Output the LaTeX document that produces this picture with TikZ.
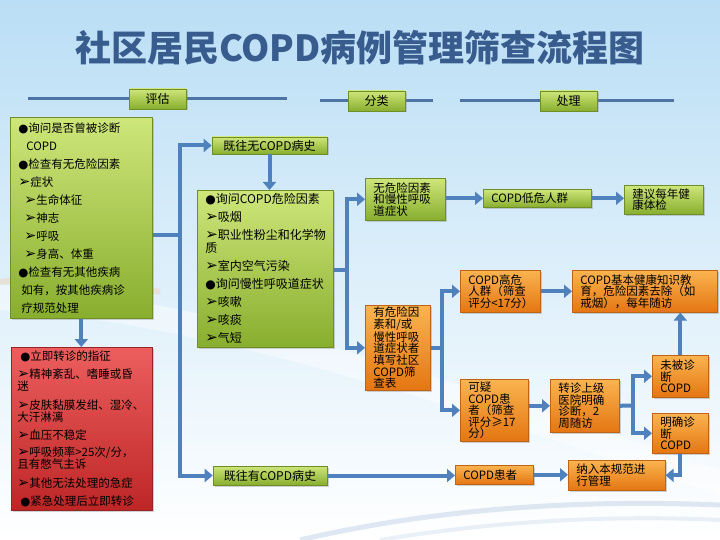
\documentclass[tikz,border=0pt]{standalone}
\usepackage{fontspec}
\setmainfont{Noto Sans CJK SC}
\newfontfamily\symfont{DejaVu Sans}
\usetikzlibrary{arrows.meta,shadows}
\AtBeginDocument{\lineskiplimit=-100pt\relax}
\definecolor{arrblue}{RGB}{79,129,189}
\definecolor{hdrline}{RGB}{78,116,165}
\definecolor{titleblue}{RGB}{56,92,142}
\definecolor{gtop}{RGB}{206,230,122}
\definecolor{gbot}{RGB}{136,174,46}
\definecolor{gdraw}{RGB}{112,142,40}
\definecolor{otop}{RGB}{250,180,80}
\definecolor{obot}{RGB}{228,118,18}
\definecolor{odraw}{RGB}{190,100,20}
\definecolor{rtop}{RGB}{236,94,94}
\definecolor{rbot}{RGB}{190,38,38}
\definecolor{rdraw}{RGB}{150,36,36}
\definecolor{bgtop}{RGB}{186,222,245}
\newcommand\mybul{{\symfont ●}}
\newcommand\myarr{{\symfont\scalebox{1.25}{➢}}}
\tikzset{
  boxbase/.style={anchor=north west, inner xsep=8pt, inner ysep=1pt, align=left, line width=0.6pt,
    drop shadow={opacity=0.35, shadow xshift=1.5pt, shadow yshift=-1.5pt}},
  gbox/.style={boxbase, top color=gtop, bottom color=gbot, draw=gdraw},
  obox/.style={boxbase, top color=otop, bottom color=obot, draw=odraw},
  rbox/.style={boxbase, top color=rtop, bottom color=rbot, draw=rdraw},
  hbox/.style={gbox, anchor=center, align=center, font=\fontsize{12}{12}\selectfont},
  smtext/.style={font=\fontsize{11.5}{11.5}\selectfont},
  tighttext/.style={font=\fontsize{11.5}{10}\selectfont},
  conn/.style={draw=arrblue, line width=4pt},
  arr/.style={conn, -{Triangle[width=13pt,length=8pt]}},
  hline/.style={draw=hdrline, line width=3pt},
}
\begin{document}
\begin{tikzpicture}[x=1pt,y=-1pt]
\useasboundingbox (0,0) rectangle (720,540);
% background
\shade[top color=bgtop, bottom color=white] (0,0) rectangle (720,540);
\fill[white, opacity=0.45] (0,285) .. controls (200,295) and (450,380) .. (720,470) -- (720,495) .. controls (450,405) and (200,320) .. (0,310) -- cycle;
\draw[orange!50, opacity=0.25, line width=6pt] (0,282) .. controls (50,276) and (110,280) .. (160,292);
\draw[arrblue!30, opacity=0.6, line width=5pt] (300,540) .. controls (450,505) and (600,500) .. (720,505);
\draw[arrblue!20, opacity=0.6, line width=4pt] (380,540) .. controls (500,520) and (620,515) .. (720,520);

% title
\node[font=\fontsize{36}{36}\selectfont\bfseries, text=titleblue] (title) at (360,48) {社区居民COPD病例管理筛查流程图};

% header lines and boxes
\draw[hline] (28,99) -- (287,99);
\draw[hline] (320,101) -- (433,101);
\draw[hline] (460,101) -- (674,101);
\node[hbox, minimum width=57pt, minimum height=20pt] (h1) at (157.5,99) {评估};
\node[hbox, minimum width=57pt, minimum height=20pt] (h2) at (376.5,101) {分类};
\node[hbox, minimum width=57pt, minimum height=20pt] (h3) at (568.5,101) {处理};

% assessment column
\node[gbox, minimum width=142pt, minimum height=201pt, text width=126pt,
  font=\fontsize{11.5}{18}\selectfont] (g1) at (10,117) {%
\mybul 询问是否曾被诊断\\
\hspace*{8pt}COPD\\
\mybul 检查有无危险因素\\
\myarr 症状\\
\hspace*{6pt}\myarr 生命体征\\
\hspace*{6pt}\myarr 神志\\
\hspace*{6pt}\myarr 呼吸\\
\hspace*{6pt}\myarr 身高、体重\\
\mybul 检查有无其他疾病\\
\hspace*{3pt}如有，按其他疾病诊\\
\hspace*{3pt}疗规范处理};

\node[rbox, minimum width=141pt, minimum height=163pt, text width=129pt, inner xsep=6pt,
  font=\fontsize{11.5}{12}\selectfont] (red) at (11,347) {%
\hspace*{3pt}\mybul 立即转诊的指征\\[6pt]
\myarr 精神紊乱、嗜睡或昏\\
迷\\[7pt]
\myarr 皮肤黏膜发绀、湿冷、\\
大汗淋漓\\[6.5pt]
\myarr 血压不稳定\\[5pt]
\myarr 呼吸频率>25次/分，\\
且有憋气主诉\\[7pt]
\myarr 其他无法处理的急症\\[6pt]
\hspace*{3pt}\mybul 紧急处理后立即转诊};

\node[gbox, anchor=center, align=center, minimum width=115pt, minimum height=17pt,
  font=\fontsize{12}{12}\selectfont] (nocopd) at (269.5,145.5) {既往无COPD病史};
\node[gbox, anchor=center, align=center, minimum width=114pt, minimum height=19pt,
  font=\fontsize{12}{12}\selectfont] (hascopd) at (270,475.5) {既往有COPD病史};

\node[gbox, minimum width=136pt, minimum height=157pt, text width=120pt,
  font=\fontsize{12}{18}\selectfont] (g2) at (197,190) {%
\mybul 询问COPD危险因素\\
\myarr 吸烟\\
\myarr 职业性粉尘和化学物\\[-5pt]
质\\
\myarr 室内空气污染\\
\mybul 询问慢性呼吸道症状\\
\myarr 咳嗽\\
\myarr 咳痰\\
\myarr 气短};

% classification column
\node[gbox, smtext, minimum width=80pt, minimum height=42pt, text width=64pt] (norisk) at (365,178) {无危险因素\\和慢性呼吸\\道症状};
\node[obox, tighttext, minimum width=65pt, minimum height=85pt, text width=49pt] (risk) at (365,305) {有危险因\\素和/或\\慢性呼吸\\道症状者\\填写社区\\COPD筛\\查表};

% handling column
\node[gbox, smtext, minimum width=108pt, minimum height=18pt, text width=92pt] (lowrisk) at (483,189) {COPD低危人群};
\node[gbox, smtext, minimum width=79pt, minimum height=29pt, text width=63pt] (annual) at (624,185) {建议每年健\\康体检};
\node[obox, smtext, minimum width=80pt, minimum height=42pt, text width=64pt] (highrisk) at (460,270) {COPD高危\\人群（筛查\\评分<17分）};
\node[obox, smtext, minimum width=145pt, minimum height=42pt, text width=129pt] (edu) at (572,270) {COPD基本健康知识教\\育，危险因素去除（如\\戒烟），每年随访};
\node[obox, smtext, minimum width=68pt, minimum height=62pt, text width=52pt] (suspect) at (460,379) {可疑\\COPD患\\者（筛查\\评分≥17\\分）};
\node[obox, smtext, minimum width=69pt, minimum height=53pt, text width=53pt] (referral) at (550,379) {转诊上级\\医院明确\\诊断，2\\周随访};
\node[obox, smtext, minimum width=56pt, minimum height=42pt, text width=40pt] (notdiag) at (652,355) {未被诊\\断\\COPD};
\node[obox, smtext, minimum width=56pt, minimum height=40pt, text width=40pt] (diag) at (652,413) {明确诊\\断\\COPD};
\node[obox, smtext, minimum width=97pt, minimum height=30pt, text width=81pt] (manage) at (568,460) {纳入本规范进\\行管理};
\node[obox, smtext, minimum width=78pt, minimum height=19pt, text width=62pt] (patient) at (455,465) {COPD患者};

% connectors
\coordinate (t1) at (180,235);
\draw[conn] (g1.east |- t1) -- (t1);
\draw[arr] (t1) |- (nocopd.west);
\draw[arr] (t1) |- (hascopd.west);
\draw[arr] (g1.south) -- (g1.south |- red.north);
\draw[arr] (nocopd.south) -- (nocopd.south |- g2.north);

\coordinate (t2) at (347,270);
\draw[conn] (g2.east |- t2) -- (t2);
\draw[arr] (t2) |- (norisk.west);
\draw[arr] (t2) |- (risk.west);

\coordinate (t3) at (442,348);
\draw[conn] (risk.east |- t3) -- (t3);
\draw[arr] (t3) |- (highrisk.west);
\draw[arr] (t3) |- (suspect.west);

\draw[arr] (norisk.east |- lowrisk.west) -- (lowrisk.west);
\draw[arr] (lowrisk.east) -- (lowrisk.east -| annual.west);
\draw[arr] (highrisk.east) -- (edu.west);
\draw[arr] (suspect.east |- referral.west) -- (referral.west);

\coordinate (t4) at (633,405.5);
\draw[conn] (referral.east) -- (t4);
\draw[arr] (t4) |- (notdiag.west);
\draw[arr] (t4) |- (diag.west);
\draw[arr] (notdiag.north) -- (notdiag.north |- edu.south);
\draw[arr] (diag.south) |- (manage.east);
\draw[arr] (hascopd.east) -- (hascopd.east -| patient.west);
\draw[arr] (patient.east) -- (patient.east -| manage.west);
\end{tikzpicture}
\end{document}
